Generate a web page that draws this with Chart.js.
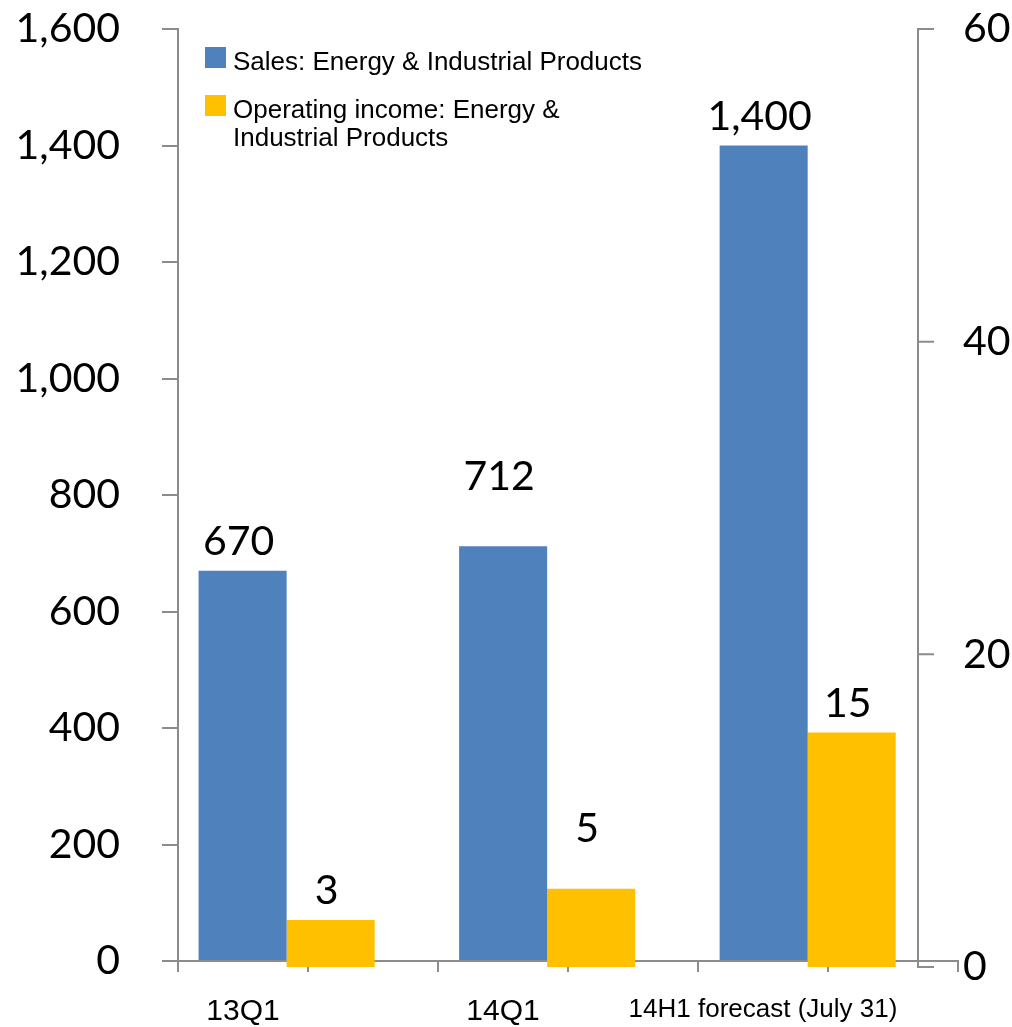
<!DOCTYPE html>
<html>
<head>
<meta charset="utf-8">
<title>Energy &amp; Industrial Products</title>
<script src="https://cdn.jsdelivr.net/npm/chart.js@4.4.0/dist/chart.umd.min.js"></script>
<style>
    html, body { margin: 0; padding: 0; background: #fff; }
    #wrap { position: relative; width: 1012px; height: 1027px; }
</style>
</head>
<body>
<div id="wrap"><canvas id="chart"></canvas></div>
<script>
// --- data ---
const categories = ['13Q1', '14Q1', '14H1 forecast (July 31)'];
const seriesNames = ['Sales: Energy & Industrial Products', 'Operating income: Energy & Industrial Products'];
const salesValues = [670, 712, 1400];
const incomeValues = [3, 5, 15];
const salesTicks = [0, 200, 400, 600, 800, 1000, 1200, 1400, 1600];
const incomeTicks = [0, 20, 40, 60];

// some value labels sit higher above their bar
const salesLabelLift = [0, 40, 0];
const incomeLabelLift = [0, 31, 0];

// --- look ---
const BLUE = '#4F81BD';
const GOLD = '#FFC000';
const AXIS_GREY = '#8c8c8c';
const NUM_FONT = 'Lato, "Open Sans", sans-serif';
const TEXT_FONT = '"Liberation Sans", Arial, sans-serif';
const NUM_SIZE = 41;
const RIGHT_AXIS_INSET = 40;   // secondary axis sits inside the plot's right end

const fmt = v => v.toLocaleString('en-US');

// axis shows a tick every half category, labels on the first half
const axisLabels = categories.flatMap(c => [c, '']);

function wrapWords(ctx, text, maxWidth) {
    const words = text.split(' ');
    const lines = [];
    let line = '';
    words.forEach(w => {
        const test = line ? line + ' ' + w : w;
        if (line && ctx.measureText(test).width > maxWidth) {
            lines.push(line);
            line = w;
        } else {
            line = test;
        }
    });
    if (line) lines.push(line);
    return lines;
}

const decorPlugin = {
    id: 'decor',
    afterDatasetsDraw(chart) {
        const { ctx, chartArea } = chart;
        const y2 = chart.scales.y2;

        ctx.save();

        // secondary (operating income) axis
        const ax = chartArea.right - RIGHT_AXIS_INSET;
        const top = y2.getPixelForValue(incomeTicks[incomeTicks.length - 1]);
        const bottom = y2.getPixelForValue(incomeTicks[0]);
        ctx.strokeStyle = AXIS_GREY;
        ctx.lineWidth = 2;
        ctx.beginPath();
        ctx.moveTo(ax, top);
        ctx.lineTo(ax, bottom);
        incomeTicks.forEach(v => {
            const py = y2.getPixelForValue(v);
            ctx.moveTo(ax - 1, py);
            ctx.lineTo(ax + 16, py);
        });
        ctx.stroke();

        ctx.fillStyle = '#000';
        ctx.font = `${NUM_SIZE}px ${NUM_FONT}`;
        ctx.textAlign = 'left';
        ctx.textBaseline = 'middle';
        incomeTicks.forEach(v => {
            ctx.fillText(fmt(v), ax + 45, y2.getPixelForValue(v));
        });

        // value labels above the bars
        ctx.textAlign = 'center';
        ctx.textBaseline = 'alphabetic';
        chart.data.datasets.forEach((ds, di) => {
            const meta = chart.getDatasetMeta(di);
            meta.data.forEach((bar, i) => {
                const lift = ds.labelLift ? ds.labelLift[i] : 0;
                ctx.fillText(fmt(ds.data[i].y), bar.x - 4, bar.y - 16 - lift);
            });
        });

        // legend, top-left inside the plot
        ctx.font = `26px ${TEXT_FONT}`;
        ctx.textAlign = 'left';
        const lx = chartArea.left + 27;
        let baseline = chartArea.top + 41;
        chart.data.datasets.forEach(ds => {
            ctx.fillStyle = ds.backgroundColor;
            ctx.fillRect(lx, baseline - 23, 21, 21);
            ctx.fillStyle = '#000';
            const lines = wrapWords(ctx, ds.label, 420);
            lines.forEach((ln, k) => ctx.fillText(ln, lx + 28, baseline + k * 28));
            baseline += (lines.length - 1) * 28 + 48;
        });

        ctx.restore();
    }
};

function drawChart() {
    const ctx = document.getElementById('chart');

    new Chart(ctx, {
        type: 'bar',
        data: {
            labels: axisLabels,
            datasets: [
                {
                    label: seriesNames[0],
                    data: salesValues.map((v, i) => ({ x: i, y: v })),
                    backgroundColor: BLUE,
                    xAxisID: 'xb',
                    yAxisID: 'y',
                    clip: false,
                    labelLift: salesLabelLift
                },
                {
                    label: seriesNames[1],
                    data: incomeValues.map((v, i) => ({ x: i, y: v })),
                    backgroundColor: GOLD,
                    xAxisID: 'xb',
                    yAxisID: 'y2',
                    clip: false,
                    labelLift: incomeLabelLift
                }
            ]
        },
        options: {
            responsive: true,
            maintainAspectRatio: false,
            animation: false,
            categoryPercentage: 0.676,
            barPercentage: 1,
            layout: { padding: { top: 29, right: 54, bottom: 0, left: 0 } },
            plugins: {
                legend: { display: false },
                tooltip: { enabled: false }
            },
            scales: {
                // visible category axis
                x: {
                    type: 'category',
                    offset: true,
                    grid: { display: true, offset: true, drawOnChartArea: false, tickLength: 11, color: AXIS_GREY, lineWidth: 2 },
                    border: { display: true, color: AXIS_GREY, width: 2 },
                    ticks: {
                        color: '#000',
                        // the long forecast label is set a little smaller
                        font: c => ({ family: TEXT_FONT, size: c.tick && c.tick.label.length > 10 ? 26 : 30 }),
                        padding: 22,
                        maxRotation: 0,
                        minRotation: 0,
                        autoSkip: false
                    },
                    afterFit: s => { s.height = 66; }
                },
                // bar placement, one unit per category
                xb: {
                    type: 'linear',
                    display: false,
                    offset: false,
                    bounds: 'data',
                    min: -0.417,
                    max: 2.577,
                    afterBuildTicks: s => { s.ticks = categories.map((c, i) => ({ value: i })); }
                },
                y: {
                    position: 'left',
                    min: 0,
                    max: 1600,
                    afterBuildTicks: s => { s.ticks = salesTicks.map(v => ({ value: v })); },
                    grid: { drawOnChartArea: false, tickLength: 16, color: AXIS_GREY, lineWidth: 2 },
                    border: { display: true, color: AXIS_GREY, width: 2 },
                    ticks: {
                        color: '#000',
                        font: { family: NUM_FONT, size: NUM_SIZE },
                        padding: 42,
                        callback: v => fmt(v)
                    },
                    afterFit: s => {
                        s.width = 178;
                        s.paddingTop = 0;
                        s.paddingBottom = 0;
                    }
                },
                y2: {
                    position: 'right',
                    display: false,
                    min: 0.384,
                    max: 60,
                    beginAtZero: true,
                    afterBuildTicks: s => { s.ticks = incomeTicks.map(v => ({ value: v })); }
                }
            }
        },
        plugins: [decorPlugin]
    });
}

Promise.all([
    document.fonts.load(`${NUM_SIZE}px Lato`),
    document.fonts.load('26px "Liberation Sans"')
]).then(drawChart, drawChart);
</script>
</body>
</html>
